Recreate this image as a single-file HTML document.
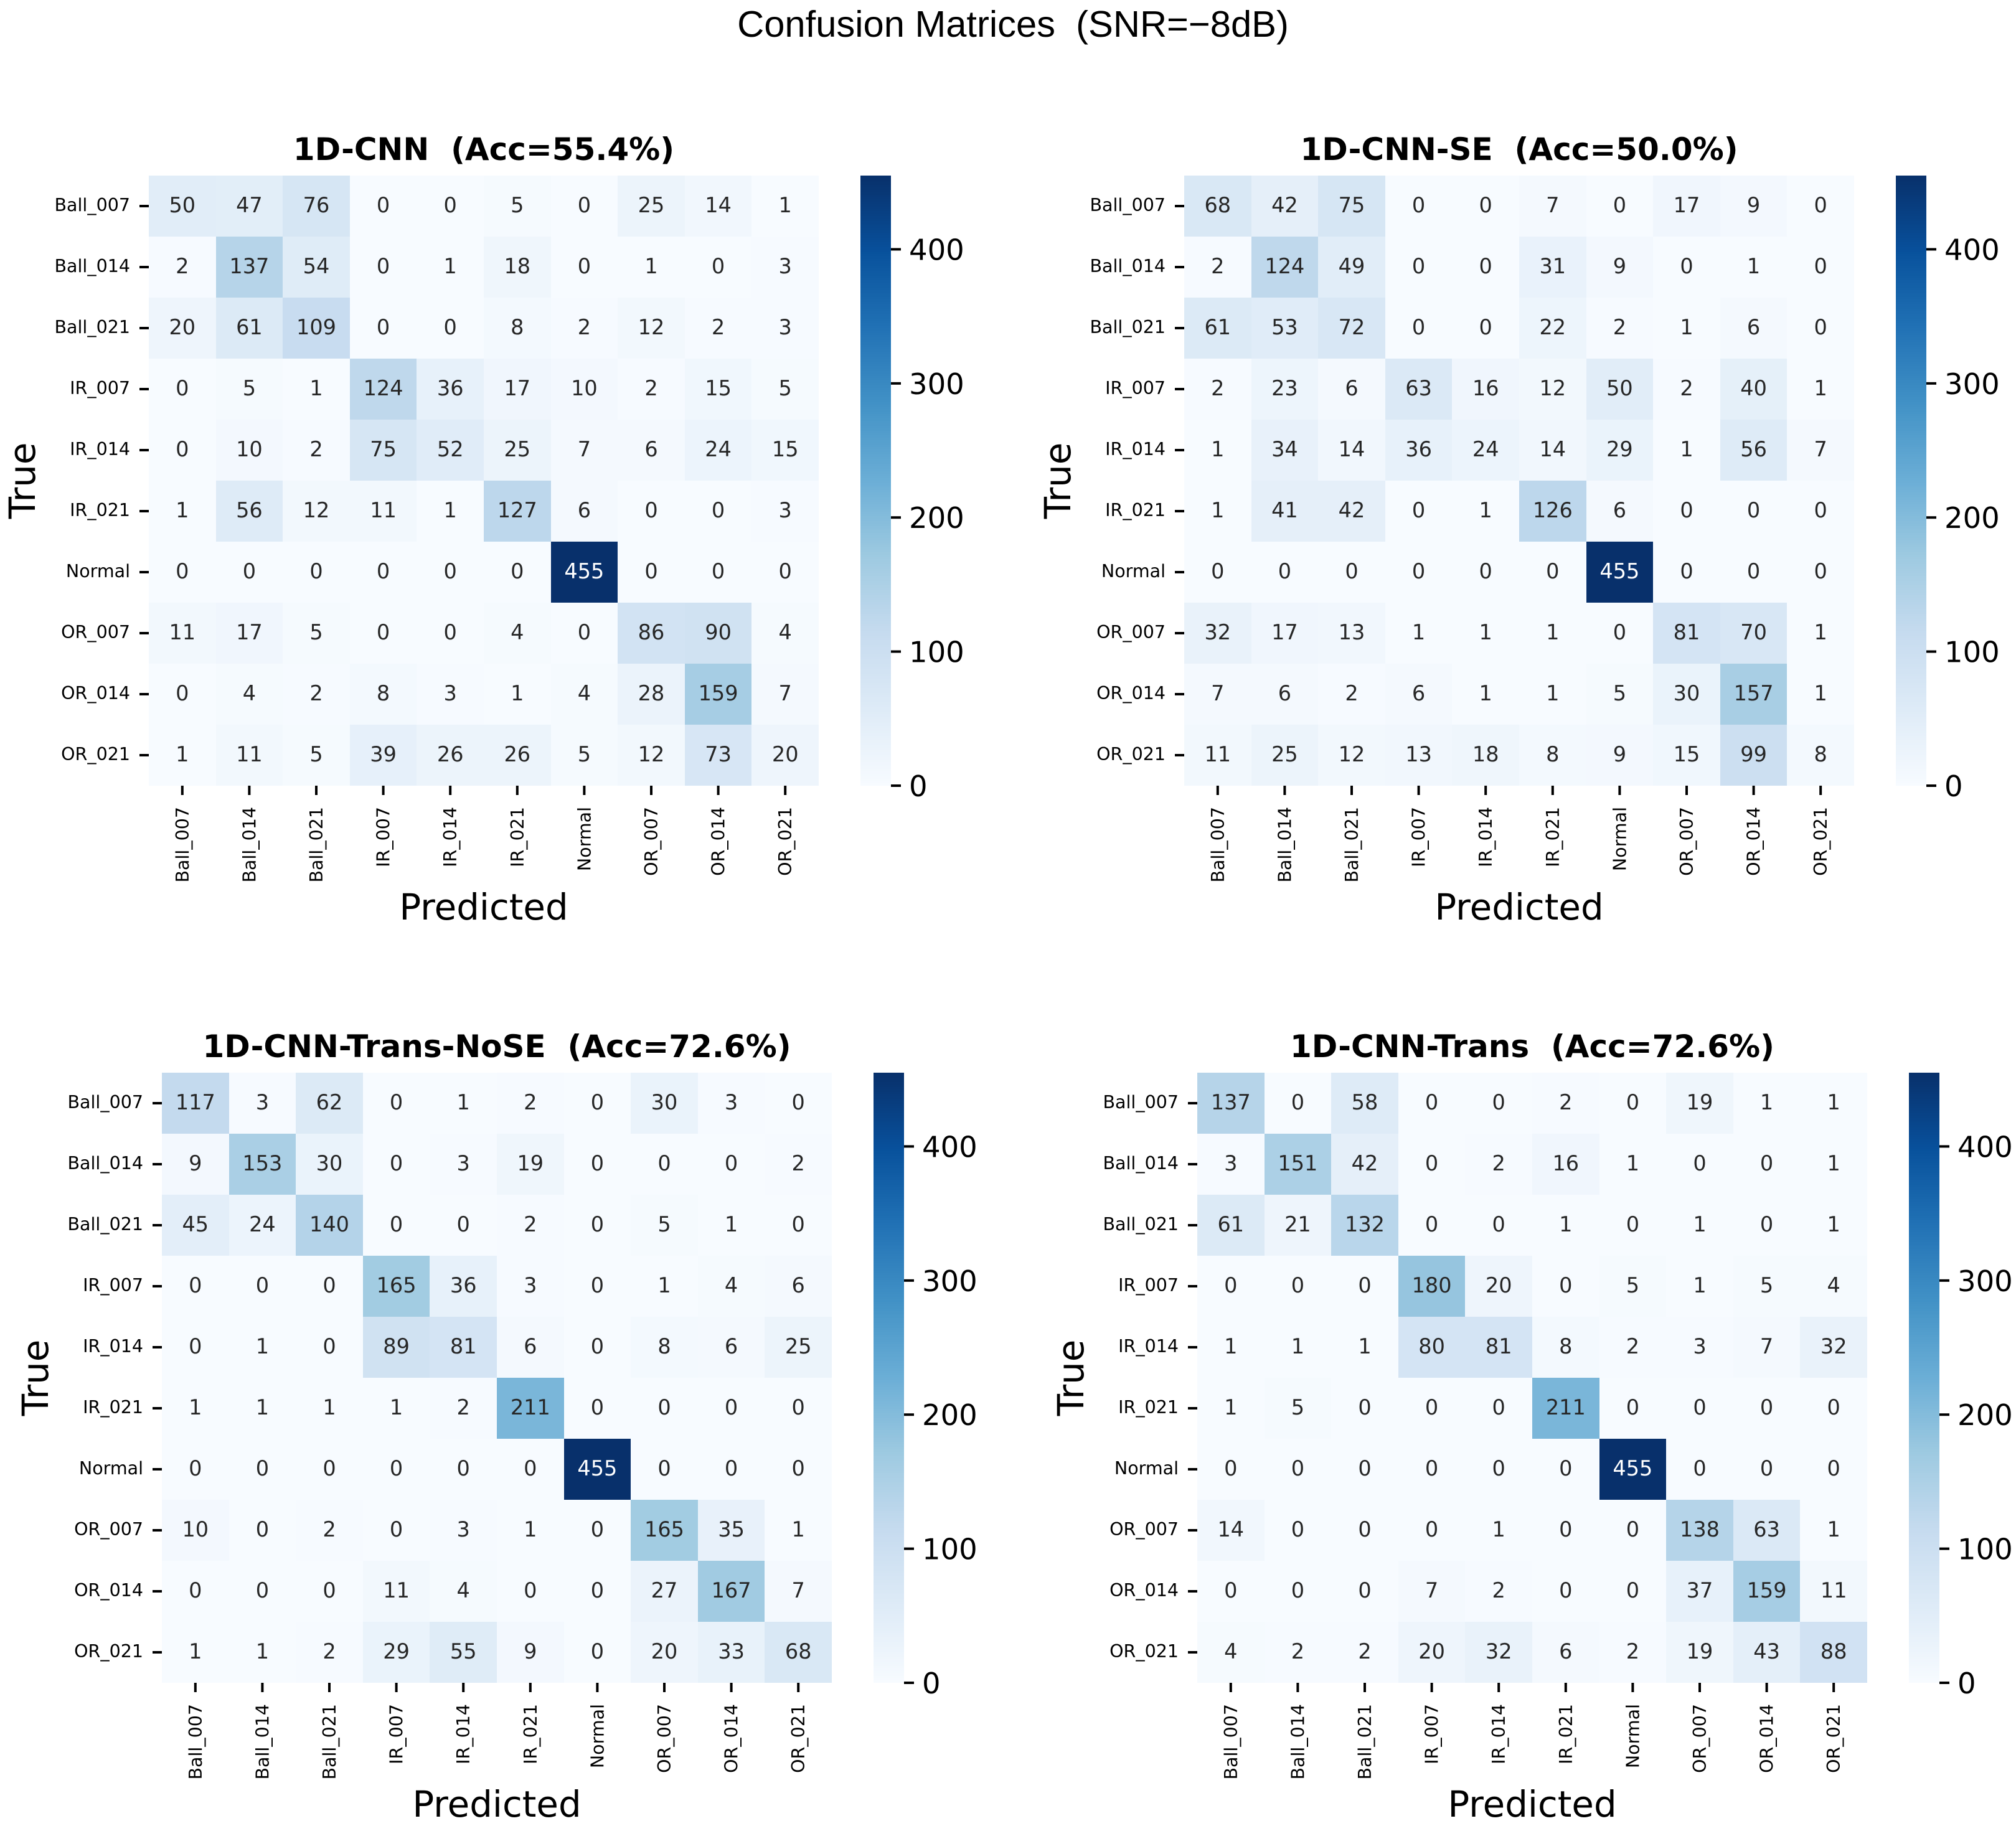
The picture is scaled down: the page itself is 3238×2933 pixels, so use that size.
<!DOCTYPE html>
<html lang="en">
<head>
<meta charset="utf-8">
<title>Confusion Matrices (SNR=-8dB)</title>
<style>
html,body{margin:0;padding:0;background:#fff;}
svg{display:block;}
text{font-family:"DejaVu Sans",sans-serif;white-space:pre;}
</style>
</head>
<body>
<svg id="chart" xmlns="http://www.w3.org/2000/svg" width="3238" height="2933" viewBox="0 0 3238 2933">
<rect x="0" y="0" width="3238" height="2933" fill="#ffffff"/>
<text x="1627" y="59" text-anchor="middle" font-size="59.7" fill="#000" style="font-family:'Liberation Sans',sans-serif">Confusion Matrices  (SNR=−8dB)</text>
</svg>
<script>
const categories = ["Ball_007","Ball_014","Ball_021","IR_007","IR_014","IR_021","Normal","OR_007","OR_014","OR_021"];
const colorbarTicks = [0,100,200,300,400];
const modelNames = ["1D-CNN","1D-CNN-SE","1D-CNN-Trans-NoSE","1D-CNN-Trans"];
const accuracies = ["55.4","50.0","72.6","72.6"];
const matrixCnn = [
[50,47,76,0,0,5,0,25,14,1],
[2,137,54,0,1,18,0,1,0,3],
[20,61,109,0,0,8,2,12,2,3],
[0,5,1,124,36,17,10,2,15,5],
[0,10,2,75,52,25,7,6,24,15],
[1,56,12,11,1,127,6,0,0,3],
[0,0,0,0,0,0,455,0,0,0],
[11,17,5,0,0,4,0,86,90,4],
[0,4,2,8,3,1,4,28,159,7],
[1,11,5,39,26,26,5,12,73,20]
];
const matrixCnnSe = [
[68,42,75,0,0,7,0,17,9,0],
[2,124,49,0,0,31,9,0,1,0],
[61,53,72,0,0,22,2,1,6,0],
[2,23,6,63,16,12,50,2,40,1],
[1,34,14,36,24,14,29,1,56,7],
[1,41,42,0,1,126,6,0,0,0],
[0,0,0,0,0,0,455,0,0,0],
[32,17,13,1,1,1,0,81,70,1],
[7,6,2,6,1,1,5,30,157,1],
[11,25,12,13,18,8,9,15,99,8]
];
const matrixTransNoSe = [
[117,3,62,0,1,2,0,30,3,0],
[9,153,30,0,3,19,0,0,0,2],
[45,24,140,0,0,2,0,5,1,0],
[0,0,0,165,36,3,0,1,4,6],
[0,1,0,89,81,6,0,8,6,25],
[1,1,1,1,2,211,0,0,0,0],
[0,0,0,0,0,0,455,0,0,0],
[10,0,2,0,3,1,0,165,35,1],
[0,0,0,11,4,0,0,27,167,7],
[1,1,2,29,55,9,0,20,33,68]
];
const matrixTrans = [
[137,0,58,0,0,2,0,19,1,1],
[3,151,42,0,2,16,1,0,0,1],
[61,21,132,0,0,1,0,1,0,1],
[0,0,0,180,20,0,5,1,5,4],
[1,1,1,80,81,8,2,3,7,32],
[1,5,0,0,0,211,0,0,0,0],
[0,0,0,0,0,0,455,0,0,0],
[14,0,0,0,1,0,0,138,63,1],
[0,0,0,7,2,0,0,37,159,11],
[4,2,2,20,32,6,2,19,43,88]
];

const SVG_NS = "http://www.w3.org/2000/svg";
const svg = document.getElementById("chart");
const BLUES = [[247,251,255],[222,235,247],[198,219,239],[158,202,225],[107,174,214],[66,146,198],[33,113,181],[8,81,156],[8,48,107]];

function blues(t){
  const c = Math.max(0, Math.min(1, t)) * (BLUES.length - 1);
  const i = Math.min(Math.floor(c), BLUES.length - 2);
  const f = c - i;
  return [0,1,2].map(k => BLUES[i][k] + (BLUES[i+1][k] - BLUES[i][k]) * f);
}
function rgb(c){ return "rgb(" + c.map(v => Math.round(v)).join(",") + ")"; }
function luminance(c){
  const l = c.map(v => { v /= 255; return v <= 0.03928 ? v / 12.92 : Math.pow((v + 0.055) / 1.055, 2.4); });
  return 0.2126 * l[0] + 0.7152 * l[1] + 0.0722 * l[2];
}
function mk(tag, parent, attrs){
  const el = document.createElementNS(SVG_NS, tag);
  for (const k in attrs) el.setAttribute(k, attrs[k]);
  parent.appendChild(el);
  return el;
}

const W = 1076, H = 980, N = categories.length;

function drawPanel(key, title, matrix, left, top){
  const vmax = Math.max.apply(null, matrix.map(r => Math.max.apply(null, r)));
  const xScale = i => left + i * W / N;
  const yScale = i => top + i * H / N;
  const cbLeft = left + W + 67, cbWidth = 49;
  const cbY = v => top + H - v / vmax * H;

  const g = mk("g", svg, {});
  
  

  const t = mk("text", g, {x: left + W / 2, y: top - 25, "text-anchor": "middle", "font-size": 50, "font-weight": "bold", fill: "#000"});
  
  
  t.textContent = title;

  matrix.forEach((row, r) => row.forEach((v, c) => {
    const col = blues(v / vmax);
    const x0 = Math.round(xScale(c)), x1 = Math.round(xScale(c + 1));
    const y0 = Math.round(yScale(r)), y1 = Math.round(yScale(r + 1));
    const cell = mk("rect", g, {x: x0, y: y0, width: x1 - x0, height: y1 - y0, fill: rgb(col), "shape-rendering": "crispEdges"});
    
    
    const label = mk("text", g, {x: xScale(c + 0.5), y: yScale(r + 0.5) + 10, "text-anchor": "middle", "font-size": 33.5, fill: luminance(col) < 0.408 ? "#ffffff" : "#262626"});
    
    
    label.textContent = String(v);
  }));

  categories.forEach((name, i) => {
    const yc = yScale(i + 0.5), xc = xScale(i + 0.5);
    const yt = mk("rect", g, {x: left - 15, y: yc - 2, width: 15, height: 4, fill: "#000"});
    
    
    const yl = mk("text", g, {x: left - 30, y: yc + 8, "text-anchor": "end", "font-size": 28.5, fill: "#000"});
    
    
    yl.textContent = name;
    const xt = mk("rect", g, {x: xc - 2, y: top + H, width: 4, height: 15, fill: "#000"});
    
    
    const lx = xc + 10, ly = top + H + 34;
    const xl = mk("text", g, {x: lx, y: ly, "text-anchor": "end", "font-size": 28.5, fill: "#000", transform: "rotate(-90 " + lx + " " + ly + ")"});
    
    
    xl.textContent = name;
  });

  const xa = mk("text", g, {x: left + W / 2, y: top + H + 215, "text-anchor": "middle", "font-size": 57.8, fill: "#000"});
  
  
  xa.textContent = "Predicted";

  const ax = left - 183, ay = top + H / 2;
  const ya = mk("text", g, {x: ax, y: ay, "text-anchor": "middle", "font-size": 57.8, fill: "#000", transform: "rotate(-90 " + ax + " " + ay + ")"});
  
  
  ya.textContent = "True";

  const cb = mk("g", g, {"shape-rendering": "crispEdges"});
  
  
  const steps = 256;
  for (let s = 0; s < steps; s++) {
    const y0 = Math.round(top + H - (s + 1) / steps * H);
    const y1 = Math.round(top + H - s / steps * H);
    const band = mk("rect", cb, {x: cbLeft, y: y0, width: cbWidth, height: y1 - y0, fill: rgb(blues((s + 0.5) / steps))});
    
    
  }
  colorbarTicks.forEach(v => {
    const y = cbY(v);
    const tick = mk("rect", g, {x: cbLeft + cbWidth, y: y - 2, width: 16, height: 4, fill: "#000"});
    
    
    const lab = mk("text", g, {x: cbLeft + cbWidth + 29, y: y + 17, "font-size": 46.5, fill: "#000"});
    
    
    lab.textContent = String(v);
  });
}

function panelTitle(i){ return modelNames[i] + "  (Acc=" + accuracies[i] + "%)"; }
drawPanel("cnn", panelTitle(0), matrixCnn, 239, 282);
drawPanel("cnn-se", panelTitle(1), matrixCnnSe, 1902, 282);
drawPanel("cnn-trans-nose", panelTitle(2), matrixTransNoSe, 260, 1723);
drawPanel("cnn-trans", panelTitle(3), matrixTrans, 1923, 1723);
</script>
</body>
</html>
